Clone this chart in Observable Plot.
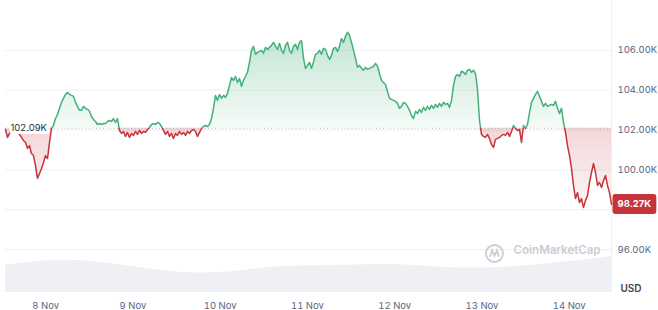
<!DOCTYPE html>
<html><head><meta charset="utf-8">
<script src="https://cdn.jsdelivr.net/npm/d3@7"></script>
<script src="https://cdn.jsdelivr.net/npm/@observablehq/plot@0.6"></script>
<style>
body{margin:0;background:#fff;}
#wrap{position:relative;width:658px;height:310px;font-family:Inter,sans-serif;}
#wrap svg{position:absolute;left:0;top:0;}
</style></head><body><div id="wrap"></div>
<script>
// ---- data ----
const startTime = Date.UTC(2024, 10, 7, 12, 58);
const stepMinutes = 33;
const prices = [
102.03,101.63,101.83,101.98,101.93,102.03,101.88,101.78,101.63,101.48,
101.38,101.08,101.22,100.82,100.72,100.22,99.57,99.82,100.07,100.37,
100.72,100.57,101.38,102.08,102.23,102.58,102.78,103.09,103.39,103.59,
103.79,103.89,103.79,103.74,103.69,103.39,103.19,102.99,102.99,103.19,
103.09,103.04,102.94,102.68,102.53,102.43,102.28,102.33,102.28,102.33,
102.33,102.43,102.48,102.43,102.58,102.38,102.58,101.98,101.83,101.93,
101.68,101.88,101.63,101.83,101.73,101.93,101.78,101.98,101.83,101.93,
101.88,102.03,102.13,102.28,102.33,102.28,102.38,102.33,102.18,101.98,
101.78,101.93,101.68,101.83,101.58,101.83,101.73,101.93,101.78,101.88,
101.73,101.93,101.83,101.98,102.03,101.93,101.68,101.88,102.08,102.18,
102.23,102.18,102.28,102.58,103.09,103.74,103.49,103.79,103.59,103.74,
103.64,103.84,104.24,104.64,104.49,104.69,104.39,104.59,104.19,104.49,
104.69,104.90,105.40,106.00,106.20,105.80,105.90,105.95,106.00,105.85,
106.15,106.05,106.15,106.25,106.40,106.20,106.05,106.35,106.00,105.85,
106.25,106.40,106.00,105.85,106.20,106.30,106.05,106.40,106.50,105.60,
105.10,105.25,105.40,105.10,105.40,105.80,105.85,106.00,105.80,106.10,
106.05,105.75,105.55,105.75,106.10,106.15,105.95,106.20,106.60,106.40,
106.70,106.91,106.75,106.40,106.00,105.60,105.15,105.25,105.10,105.00,
105.15,105.05,105.10,105.15,105.20,105.35,105.20,104.84,104.49,104.39,
104.29,103.94,103.59,103.54,103.49,103.44,103.34,103.09,103.19,103.39,
103.34,103.19,102.99,102.73,102.58,102.94,102.83,103.04,102.88,103.14,
102.99,103.19,103.04,103.24,103.09,103.29,103.14,103.34,103.19,103.39,
103.29,103.34,103.14,103.49,104.24,104.69,104.79,104.69,104.95,104.90,
104.79,105.00,105.05,104.90,105.00,104.84,104.04,102.48,101.78,101.68,
101.63,101.78,101.58,101.28,101.13,101.53,101.58,101.63,101.73,101.78,
101.73,101.88,101.68,101.93,102.23,102.08,101.98,102.03,101.38,102.23,
102.08,102.28,102.88,103.39,103.59,103.79,103.94,103.69,103.44,103.19,
103.34,103.19,103.24,103.29,103.24,103.44,103.09,102.83,103.09,102.38,
101.88,101.22,100.72,100.07,99.22,98.56,98.86,98.36,98.56,98.11,
98.46,98.71,99.37,99.87,100.32,99.87,99.22,99.37,99.12,99.47,
99.72,99.22,98.86,98.27
];
const volumeStepHours = 12;
const volumes = [68, 82, 80, 62, 49, 47, 65, 67, 68, 72, 62, 60, 67, 77, 92];
const baseline = 102.09;
const yTicks = [96, 98, 100, 102, 104, 106];
const dayTicks = ["2024-11-08","2024-11-09","2024-11-10","2024-11-11","2024-11-12","2024-11-13","2024-11-14"];
const priceUnit = "USD";
const brand = "CoinMarketCap";

// ---- build ----
const series = prices.map((p, i) => ({t: new Date(startTime + i * stepMinutes * 60000), p}));
const t0 = series[0].t, tEnd = series[series.length - 1].t;
const volData = volumes.map((v, i) => ({t: new Date(startTime + i * volumeStepHours * 3600000), v}));
const last = series[series.length - 1];

const W = 658, H = 310, ML = 5, MR = 47;
const green = "#44b07a", red = "#c5343b", axisColor = "#58667e";
const wrap = document.getElementById("wrap");

const volPlot = Plot.plot({
  width: W, height: H, marginLeft: ML, marginRight: MR, marginTop: 252, marginBottom: 18,
  style: {background: "transparent"},
  x: {type: "utc", domain: [t0, tEnd], axis: null},
  y: {domain: [0, 100], axis: null},
  marks: [Plot.areaY(volData, {x: "t", y: "v", fill: "#eef0f4", curve: "basis", clip: true})]
});
wrap.append(volPlot);

const logo = {
  draw(ctx) {
    const r = 8.5;
    ctx.moveTo(r, 0);
    ctx.arc(0, 0, r, 0, 2 * Math.PI);
    ctx.moveTo(-4.6, 3.2);
    ctx.lineTo(-2.4, -3);
    ctx.lineTo(0, 2.2);
    ctx.lineTo(2.4, -3);
    ctx.lineTo(4.6, 3.2);
  }
};

const main = Plot.plot({
  width: W, height: H, marginLeft: ML, marginRight: MR, marginTop: 20, marginBottom: 41,
  style: {background: "transparent", fontFamily: "Inter, sans-serif", fontSize: "9.5px", color: axisColor},
  x: {type: "utc", domain: [t0, tEnd]},
  y: {domain: [95, 107.5]},
  marks: [
    Plot.ruleY(yTicks, {stroke: "#eef0f4"}),
    Plot.ruleX([tEnd], {y1: 93.85, y2: 108.5, stroke: "#eef0f4"}),
    Plot.areaY(series, {x: "t", y1: baseline, y2: d => Math.max(d.p, baseline), fill: "url(#fillUp)"}),
    Plot.areaY(series, {x: "t", y1: d => Math.min(d.p, baseline), y2: baseline, fill: "url(#fillDown)"}),
    Plot.ruleY([baseline], {stroke: "#aab2bf", strokeDasharray: "1,2.5"}),
    Plot.line(series, {x: "t", y: "p", stroke: "url(#lineStroke)", strokeWidth: 1.5}),
    Plot.axisY({ticks: yTicks, anchor: "right", tickSize: 0, tickPadding: 6, label: null,
      tickFormat: d => d.toFixed(2) + "K", fill: axisColor, fontSize: 9.5}),
    Plot.axisX({ticks: dayTicks.map(d => new Date(d)), anchor: "bottom", tickSize: 0, tickPadding: 33, label: null,
      tickFormat: d3.utcFormat("%-d %b"), fill: axisColor, fontSize: 9.5}),
    Plot.text([baseline], {y: d => d, frameAnchor: "left", dx: 5, textAnchor: "start",
      text: d => d.toFixed(2) + "K", fill: "#2b3140", stroke: "white", strokeWidth: 6, paintOrder: "stroke", fontSize: 9.5}),
    Plot.text([last], {x: "t", y: "p", dx: 6, textAnchor: "start", text: d => d.p.toFixed(2) + "K",
      fill: "white", fontWeight: "bold", fontSize: 9.5, className: "lastprice"}),
    Plot.text([priceUnit], {frameAnchor: "bottom-right", dx: 9, dy: 22, textAnchor: "start", text: d => d,
      fill: "#3d4658", fontWeight: 600, fontSize: 10}),
    Plot.dot([brand], {frameAnchor: "bottom-right", dx: -117, dy: -16, symbol: logo,
      stroke: "#c9cdd5", strokeWidth: 1.8, fill: "none"}),
    Plot.text([brand], {frameAnchor: "bottom-right", dx: -11, dy: -16, textAnchor: "end", text: d => d,
      fill: "#c9cdd5", fontWeight: 600, fontSize: 11.5})
  ]
});
wrap.append(main);

// gradients derived from the y scale
const yS = main.scale("y");
const by = yS.apply(baseline);
const svg = d3.select(main);
const defs = svg.insert("defs", ":first-child");
const lg = defs.append("linearGradient").attr("id", "lineStroke").attr("gradientUnits", "userSpaceOnUse")
  .attr("x1", 0).attr("x2", 0).attr("y1", 0).attr("y2", H);
lg.append("stop").attr("offset", by / H).attr("stop-color", green);
lg.append("stop").attr("offset", by / H).attr("stop-color", red);
const gu = defs.append("linearGradient").attr("id", "fillUp").attr("gradientUnits", "userSpaceOnUse")
  .attr("x1", 0).attr("x2", 0).attr("y1", yS.apply(107)).attr("y2", by);
gu.append("stop").attr("offset", 0).attr("stop-color", green).attr("stop-opacity", 0.34);
gu.append("stop").attr("offset", 1).attr("stop-color", green).attr("stop-opacity", 0.05);
const gd = defs.append("linearGradient").attr("id", "fillDown").attr("gradientUnits", "userSpaceOnUse")
  .attr("x1", 0).attr("x2", 0).attr("y1", by).attr("y2", yS.apply(97.5));
gd.append("stop").attr("offset", 0).attr("stop-color", red).attr("stop-opacity", 0.2);
gd.append("stop").attr("offset", 1).attr("stop-color", red).attr("stop-opacity", 0.02);

// badge behind the last-price text mark (same transform as the text)
const tnode = main.querySelector(".lastprice text") ||
  Array.from(main.querySelectorAll("text")).find(t => t.textContent === last.p.toFixed(2) + "K");
if (tnode) {
  const bb = tnode.getBBox();
  const cy = bb.y + bb.height / 2;
  const r = document.createElementNS("http://www.w3.org/2000/svg", "rect");
  r.setAttribute("x", bb.x - 5); r.setAttribute("y", cy - 10);
  r.setAttribute("width", bb.width + 10); r.setAttribute("height", 20);
  r.setAttribute("rx", 3); r.setAttribute("fill", red);
  const tr = tnode.getAttribute("transform");
  if (tr) r.setAttribute("transform", tr);
  tnode.parentNode.insertBefore(r, tnode);
}
</script></body></html>
